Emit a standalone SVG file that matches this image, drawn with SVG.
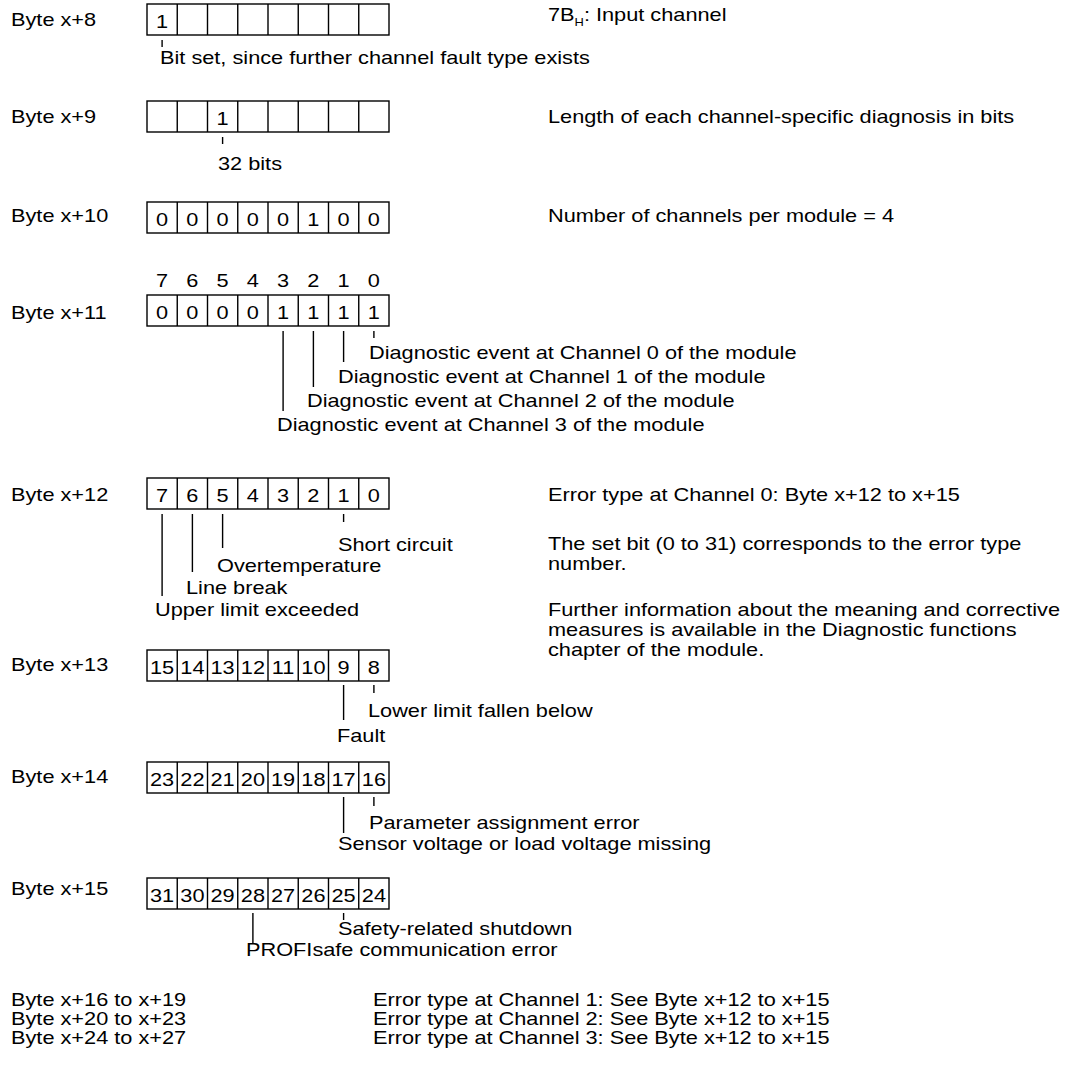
<svg xmlns="http://www.w3.org/2000/svg" xmlns:xlink="http://www.w3.org/1999/xlink" width="1074" height="1065" viewBox="0 0 1074 1065">
  <style>
    text { font-family: "Liberation Sans", Arial, sans-serif; font-size: 18.5px; fill: #000; }
    .mid { text-anchor: middle; }
    .cell { fill: #fff; stroke: #000; stroke-width: 1.4; }
    .lead { stroke: #000; stroke-width: 1.4; fill: none; }
    .sub { font-size: 11px; }
  </style>
  <defs>
    <!-- one byte: 8 bit cells, 30.25 px each -->
    <g id="byte">
      <rect class="cell" x="147" y="0" width="242" height="31"/>
      <path class="lead" d="M177.25 0V31M207.5 0V31M237.75 0V31M268 0V31M298.25 0V31M328.5 0V31M358.75 0V31"/>
    </g>
  </defs>

  <rect width="1074" height="1065" fill="#fff"/>

  <!-- Byte x+8 -->
  <g id="byte8">
    <text transform="matrix(1.175 0 0 1 11 26)">Byte x+8</text>
    <use xlink:href="#byte" href="#byte" y="4"/>
    <text class="mid" transform="matrix(1.175 0 0 1 162.1 27.5)">1</text>
    <text transform="matrix(1.175 0 0 1 160 64)">Bit set, since further channel fault type exists</text>
    <text transform="matrix(1.175 0 0 1 548 21)">7B<tspan class="sub" dy="5">H</tspan><tspan dy="-5">: Input channel</tspan></text>
  </g>

  <!-- Byte x+9 -->
  <g id="byte9">
    <text transform="matrix(1.175 0 0 1 11 123)">Byte x+9</text>
    <use xlink:href="#byte" href="#byte" y="101"/>
    <text class="mid" transform="matrix(1.175 0 0 1 222.6 124.5)">1</text>
    <text transform="matrix(1.175 0 0 1 218 169.5)">32 bits</text>
    <text transform="matrix(1.175 0 0 1 548 123)">Length of each channel-specific diagnosis in bits</text>
  </g>

  <!-- Byte x+10 -->
  <g id="byte10">
    <text transform="matrix(1.175 0 0 1 11 222)">Byte x+10</text>
    <use xlink:href="#byte" href="#byte" y="202"/>
    <g>
      <text class="mid" transform="matrix(1.175 0 0 1 162.1 225.5)">0</text>
      <text class="mid" transform="matrix(1.175 0 0 1 192.4 225.5)">0</text>
      <text class="mid" transform="matrix(1.175 0 0 1 222.6 225.5)">0</text>
      <text class="mid" transform="matrix(1.175 0 0 1 252.9 225.5)">0</text>
      <text class="mid" transform="matrix(1.175 0 0 1 283.1 225.5)">0</text>
      <text class="mid" transform="matrix(1.175 0 0 1 313.4 225.5)">1</text>
      <text class="mid" transform="matrix(1.175 0 0 1 343.6 225.5)">0</text>
      <text class="mid" transform="matrix(1.175 0 0 1 373.9 225.5)">0</text>
    </g>
    <text transform="matrix(1.175 0 0 1 548 222)">Number of channels per module = 4</text>
  </g>

  <!-- Byte x+11 -->
  <g id="byte11">
    <text transform="matrix(1.175 0 0 1 11 319)">Byte x+11</text>
    <g>
      <text class="mid" transform="matrix(1.175 0 0 1 162.1 287)">7</text>
      <text class="mid" transform="matrix(1.175 0 0 1 192.4 287)">6</text>
      <text class="mid" transform="matrix(1.175 0 0 1 222.6 287)">5</text>
      <text class="mid" transform="matrix(1.175 0 0 1 252.9 287)">4</text>
      <text class="mid" transform="matrix(1.175 0 0 1 283.1 287)">3</text>
      <text class="mid" transform="matrix(1.175 0 0 1 313.4 287)">2</text>
      <text class="mid" transform="matrix(1.175 0 0 1 343.6 287)">1</text>
      <text class="mid" transform="matrix(1.175 0 0 1 373.9 287)">0</text>
    </g>
    <use xlink:href="#byte" href="#byte" y="295"/>
    <g>
      <text class="mid" transform="matrix(1.175 0 0 1 162.1 318.5)">0</text>
      <text class="mid" transform="matrix(1.175 0 0 1 192.4 318.5)">0</text>
      <text class="mid" transform="matrix(1.175 0 0 1 222.6 318.5)">0</text>
      <text class="mid" transform="matrix(1.175 0 0 1 252.9 318.5)">0</text>
      <text class="mid" transform="matrix(1.175 0 0 1 283.1 318.5)">1</text>
      <text class="mid" transform="matrix(1.175 0 0 1 313.4 318.5)">1</text>
      <text class="mid" transform="matrix(1.175 0 0 1 343.6 318.5)">1</text>
      <text class="mid" transform="matrix(1.175 0 0 1 373.9 318.5)">1</text>
    </g>
    <text transform="matrix(1.175 0 0 1 369 359)">Diagnostic event at Channel 0 of the module</text>
    <text transform="matrix(1.175 0 0 1 338 383)">Diagnostic event at Channel 1 of the module</text>
    <text transform="matrix(1.175 0 0 1 307 407)">Diagnostic event at Channel 2 of the module</text>
    <text transform="matrix(1.175 0 0 1 277 431)">Diagnostic event at Channel 3 of the module</text>
  </g>

  <!-- Byte x+12 -->
  <g id="byte12">
    <text transform="matrix(1.175 0 0 1 11 501)">Byte x+12</text>
    <use xlink:href="#byte" href="#byte" y="478"/>
    <g>
      <text class="mid" transform="matrix(1.175 0 0 1 162.1 501.5)">7</text>
      <text class="mid" transform="matrix(1.175 0 0 1 192.4 501.5)">6</text>
      <text class="mid" transform="matrix(1.175 0 0 1 222.6 501.5)">5</text>
      <text class="mid" transform="matrix(1.175 0 0 1 252.9 501.5)">4</text>
      <text class="mid" transform="matrix(1.175 0 0 1 283.1 501.5)">3</text>
      <text class="mid" transform="matrix(1.175 0 0 1 313.4 501.5)">2</text>
      <text class="mid" transform="matrix(1.175 0 0 1 343.6 501.5)">1</text>
      <text class="mid" transform="matrix(1.175 0 0 1 373.9 501.5)">0</text>
    </g>
    <text transform="matrix(1.175 0 0 1 338 551)">Short circuit</text>
    <text transform="matrix(1.175 0 0 1 217 572)">Overtemperature</text>
    <text transform="matrix(1.175 0 0 1 186 594)">Line break</text>
    <text transform="matrix(1.175 0 0 1 155 616)">Upper limit exceeded</text>
    <text transform="matrix(1.175 0 0 1 548 501)">Error type at Channel 0: Byte x+12 to x+15</text>
    <text transform="matrix(1.175 0 0 1 548 550)">The set bit (0 to 31) corresponds to the error type</text>
    <text transform="matrix(1.175 0 0 1 548 570)">number.</text>
    <text transform="matrix(1.175 0 0 1 548 616)">Further information about the meaning and corrective</text>
    <text transform="matrix(1.175 0 0 1 548 636)">measures is available in the Diagnostic functions</text>
    <text transform="matrix(1.175 0 0 1 548 656)">chapter of the module.</text>
  </g>

  <!-- Byte x+13 -->
  <g id="byte13">
    <text transform="matrix(1.175 0 0 1 11 671)">Byte x+13</text>
    <use xlink:href="#byte" href="#byte" y="650"/>
    <g>
      <text class="mid" transform="matrix(1.175 0 0 1 162.1 673.5)">15</text>
      <text class="mid" transform="matrix(1.175 0 0 1 192.4 673.5)">14</text>
      <text class="mid" transform="matrix(1.175 0 0 1 222.6 673.5)">13</text>
      <text class="mid" transform="matrix(1.175 0 0 1 252.9 673.5)">12</text>
      <text class="mid" transform="matrix(1.175 0 0 1 283.1 673.5)">11</text>
      <text class="mid" transform="matrix(1.175 0 0 1 313.4 673.5)">10</text>
      <text class="mid" transform="matrix(1.175 0 0 1 343.6 673.5)">9</text>
      <text class="mid" transform="matrix(1.175 0 0 1 373.9 673.5)">8</text>
    </g>
    <text transform="matrix(1.175 0 0 1 368 717)">Lower limit fallen below</text>
    <text transform="matrix(1.175 0 0 1 337 742)">Fault</text>
  </g>

  <!-- Byte x+14 -->
  <g id="byte14">
    <text transform="matrix(1.175 0 0 1 11 783)">Byte x+14</text>
    <use xlink:href="#byte" href="#byte" y="762"/>
    <g>
      <text class="mid" transform="matrix(1.175 0 0 1 162.1 785.5)">23</text>
      <text class="mid" transform="matrix(1.175 0 0 1 192.4 785.5)">22</text>
      <text class="mid" transform="matrix(1.175 0 0 1 222.6 785.5)">21</text>
      <text class="mid" transform="matrix(1.175 0 0 1 252.9 785.5)">20</text>
      <text class="mid" transform="matrix(1.175 0 0 1 283.1 785.5)">19</text>
      <text class="mid" transform="matrix(1.175 0 0 1 313.4 785.5)">18</text>
      <text class="mid" transform="matrix(1.175 0 0 1 343.6 785.5)">17</text>
      <text class="mid" transform="matrix(1.175 0 0 1 373.9 785.5)">16</text>
    </g>
    <text transform="matrix(1.175 0 0 1 369 829)">Parameter assignment error</text>
    <text transform="matrix(1.175 0 0 1 338 850)">Sensor voltage or load voltage missing</text>
  </g>

  <!-- Byte x+15 -->
  <g id="byte15">
    <text transform="matrix(1.175 0 0 1 11 895)">Byte x+15</text>
    <use xlink:href="#byte" href="#byte" y="878"/>
    <g>
      <text class="mid" transform="matrix(1.175 0 0 1 162.1 901.5)">31</text>
      <text class="mid" transform="matrix(1.175 0 0 1 192.4 901.5)">30</text>
      <text class="mid" transform="matrix(1.175 0 0 1 222.6 901.5)">29</text>
      <text class="mid" transform="matrix(1.175 0 0 1 252.9 901.5)">28</text>
      <text class="mid" transform="matrix(1.175 0 0 1 283.1 901.5)">27</text>
      <text class="mid" transform="matrix(1.175 0 0 1 313.4 901.5)">26</text>
      <text class="mid" transform="matrix(1.175 0 0 1 343.6 901.5)">25</text>
      <text class="mid" transform="matrix(1.175 0 0 1 373.9 901.5)">24</text>
    </g>
    <text transform="matrix(1.175 0 0 1 338 935)">Safety-related shutdown</text>
    <text transform="matrix(1.175 0 0 1 246 956)">PROFIsafe communication error</text>
  </g>

  <!-- Further channels -->
  <g id="channels">
    <text transform="matrix(1.175 0 0 1 11 1006)">Byte x+16 to x+19</text>
    <text transform="matrix(1.175 0 0 1 11 1025)">Byte x+20 to x+23</text>
    <text transform="matrix(1.175 0 0 1 11 1044)">Byte x+24 to x+27</text>
    <text transform="matrix(1.175 0 0 1 373 1006)">Error type at Channel 1: See Byte x+12 to x+15</text>
    <text transform="matrix(1.175 0 0 1 373 1025)">Error type at Channel 2: See Byte x+12 to x+15</text>
    <text transform="matrix(1.175 0 0 1 373 1044)">Error type at Channel 3: See Byte x+12 to x+15</text>
  </g>

  <!-- leader lines from bit cells to their labels -->
  <g id="connectors" class="lead">
    <path class="lead" d="M162.1 40V47"/>
    <path class="lead" d="M222.6 137V144"/>
    <path class="lead" d="M373.9 331V338M343.6 331V362M313.4 331V387M283.1 331V411"/>
    <path class="lead" d="M343.6 514V522M222.6 514V548M192.4 514V572M162.1 514V596"/>
    <path class="lead" d="M373.9 685V693M343.6 685V720"/>
    <path class="lead" d="M373.9 797V806M343.6 797V833"/>
    <path class="lead" d="M343.6 913V920M252.9 913V943"/>
  </g>
</svg>
